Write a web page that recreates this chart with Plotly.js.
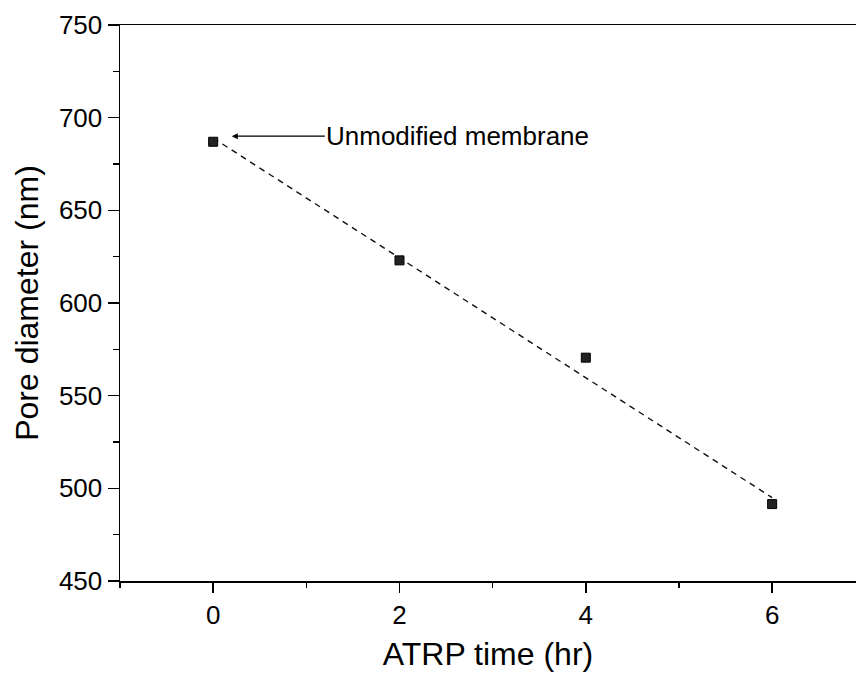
<!DOCTYPE html>
<html><head><meta charset="utf-8">
<script src="https://cdn.plot.ly/plotly-3.0.1.min.js"></script>
<style>html,body{margin:0;padding:0;background:#fff}#chart{width:856px;height:673px}</style>
</head><body><div id="chart"></div>
<script>
const timeHr = [0, 2, 4, 6];
const poreNm = [687, 623, 570.5, 491.5];
const fitX = [0, 6];
const fitY = [689, 495];
const xTicks = [0, 2, 4, 6];
const yTicks = [450, 500, 550, 600, 650, 700, 750];
const noteText = 'Unmodified membrane';

const font = 'Liberation Sans, Arial, sans-serif';
const traces = [
  {x: fitX, y: fitY, mode: 'lines', line: {color: '#111', width: 1.4, dash: '6px,5px'}, hoverinfo: 'skip'},
  {x: timeHr, y: poreNm, mode: 'markers', marker: {symbol: 'square', size: 9, color: '#222', line: {color: '#000', width: 1}}}
];
const layout = {
  width: 856, height: 673,
  margin: {l: 120, r: 0, t: 25, b: 92},
  showlegend: false,
  paper_bgcolor: '#fff', plot_bgcolor: '#fff',
  font: {family: font, color: '#000'},
  xaxis: {
    range: [-1, 6.9], tickvals: xTicks, ticktext: xTicks.map(String),
    showgrid: false, zeroline: false, showline: true, mirror: true,
    linecolor: '#000', linewidth: 1.5,
    ticks: 'outside', ticklen: 10, tickwidth: 1.5, tickcolor: '#000',
    tickfont: {size: 26, family: font},
    minor: {dtick: 1, tick0: 0, ticks: 'outside', ticklen: 5, tickwidth: 1.5, tickcolor: '#000'},
    title: {text: 'ATRP time (hr)', font: {size: 32, family: font}, standoff: 14}
  },
  yaxis: {
    range: [450, 750], tickvals: yTicks, ticktext: yTicks.map(String),
    showgrid: false, zeroline: false, showline: true,
    linecolor: '#000', linewidth: 1.5,
    ticks: 'outside', ticklen: 11, tickwidth: 1.5, tickcolor: '#000',
    tickfont: {size: 26, family: font},
    minor: {dtick: 25, tick0: 450, ticks: 'outside', ticklen: 6, tickwidth: 1.5, tickcolor: '#000'},
    title: {text: 'Pore diameter (nm)\u00a0\u00a0\u00a0\u00a0', font: {size: 32, family: font}, standoff: 10}
  },
  annotations: [{
    x: 0.2, y: 690, xref: 'x', yref: 'y',
    text: noteText, showarrow: true, ax: 226, ay: 0,
    arrowhead: 2, arrowsize: 1, arrowwidth: 1.2, arrowcolor: '#000',
    font: {size: 26, family: font, color: '#000'}
  }]
};
Plotly.newPlot('chart', traces, layout, {displayModeBar: false, staticPlot: true});
</script></body></html>
